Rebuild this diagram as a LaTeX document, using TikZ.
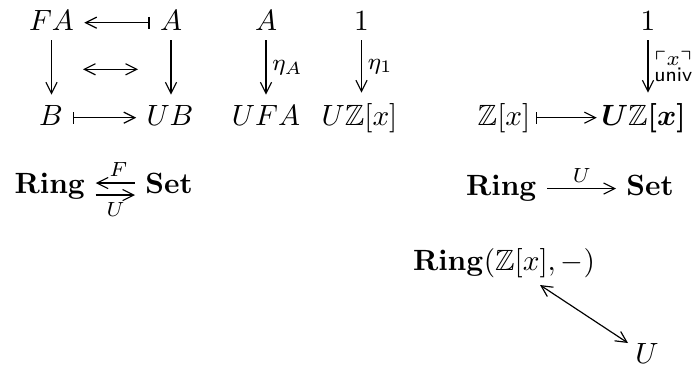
\documentclass[tikz,border=0pt]{standalone}
\usepackage{amsmath,amssymb,bm}
\usetikzlibrary{arrows.meta}
\begin{document}
\begin{tikzpicture}[x=0.3413pt,y=-0.3413pt,
  >={Straight Barb[length=3.8pt,width=3.8pt]},
  obj/.style={anchor=base},
  lbl/.style={inner sep=2pt,font=\footnotesize},
  arr/.style={->},
  marr/.style={{Bar[width=4pt]}->}]
\useasboundingbox (0,0) rectangle (699,366);
% left square
\node[obj] (fa) at (51.5,30) {$FA$};
\node[obj] (a) at (171,30) {$A$};
\node[obj] (b) at (51,125) {$B$};
\node[obj] (ub) at (170,125) {$UB$};
\draw[<-{Bar[width=4pt]}] ([yshift=2.5pt]fa.base east) -- ([yshift=2.5pt]a.base west);
\draw[arr] (fa.south) -- (fa.south |- b.north);
\draw[arr] (a.south) -- (a.south |- ub.north);
\draw[marr] ([yshift=2.5pt]b.base east) -- ([yshift=2.5pt]ub.base west);
\coordinate (m1) at (83,69.3);
\coordinate (m2) at (138,69.3);
\draw[<->] (m1) -- (m2);
% units
\node[obj] (a2) at (266,30) {$A$};
\node[obj] (ufa) at (266,125) {$UFA$};
\node[obj] (one) at (361.5,30) {$1$};
\node[obj] (uzx) at (359.5,125) {$U\mathbb{Z}[x]$};
\draw[arr] (a2.south) -- (a2.south |- ufa.north) node[midway,right,lbl] {$\eta_A$};
\draw[arr] (one.south) -- (one.south |- uzx.north) node[midway,right,lbl] {$\eta_1$};
% right
\node[obj] (one2) at (648,30) {$1$};
\node[obj] (zx) at (504,125) {$\mathbb{Z}[x]$};
\node[obj] (uzx2) at (643.5,125) {$\bm{U\mathbb{Z}[x]}$};
\draw[arr] (one2.south) -- (one2.south |- uzx2.north)
  node[midway,right,inner sep=2pt] {$\scriptstyle\substack{\ulcorner x\urcorner\\ \textsf{univ}}$};
\draw[marr] ([xshift=-1.5pt,yshift=2.5pt]zx.base east) -- ([xshift=2pt,yshift=2.5pt]uzx2.base west);
% Ring <-> Set
\node[obj] (ring1) at (50,193) {$\mathbf{Ring}$};
\node[obj] (set1) at (169,193) {$\mathbf{Set}$};
\draw[<-] ([yshift=3.4pt]ring1.base east) -- ([yshift=3.4pt]set1.base west)
  node[midway,above,inner sep=2.2pt,xshift=1pt] {$\scriptstyle F$};
\draw[->] ([yshift=-0.7pt]ring1.base east) -- ([yshift=-0.7pt]set1.base west)
  node[midway,below,inner sep=2.2pt] {$\scriptstyle U$};
\node[obj] (ring2) at (501.5,195) {$\mathbf{Ring}$};
\node[obj] (set2) at (650,195) {$\mathbf{Set}$};
\draw[->] ([yshift=2.2pt]ring2.base east) -- ([yshift=2.2pt]set2.base west)
  node[midway,above,inner sep=2pt] {$\scriptstyle U$};
% hom
\node[obj] (hom) at (504,270) {$\mathbf{Ring}(\mathbb{Z}[x],-)$};
\node[obj] (u) at (647,363) {$U$};
\coordinate (h1) at (540,285);
\coordinate (u1) at (628,343);
\draw[<->] (h1) -- (u1);
\end{tikzpicture}
\end{document}
